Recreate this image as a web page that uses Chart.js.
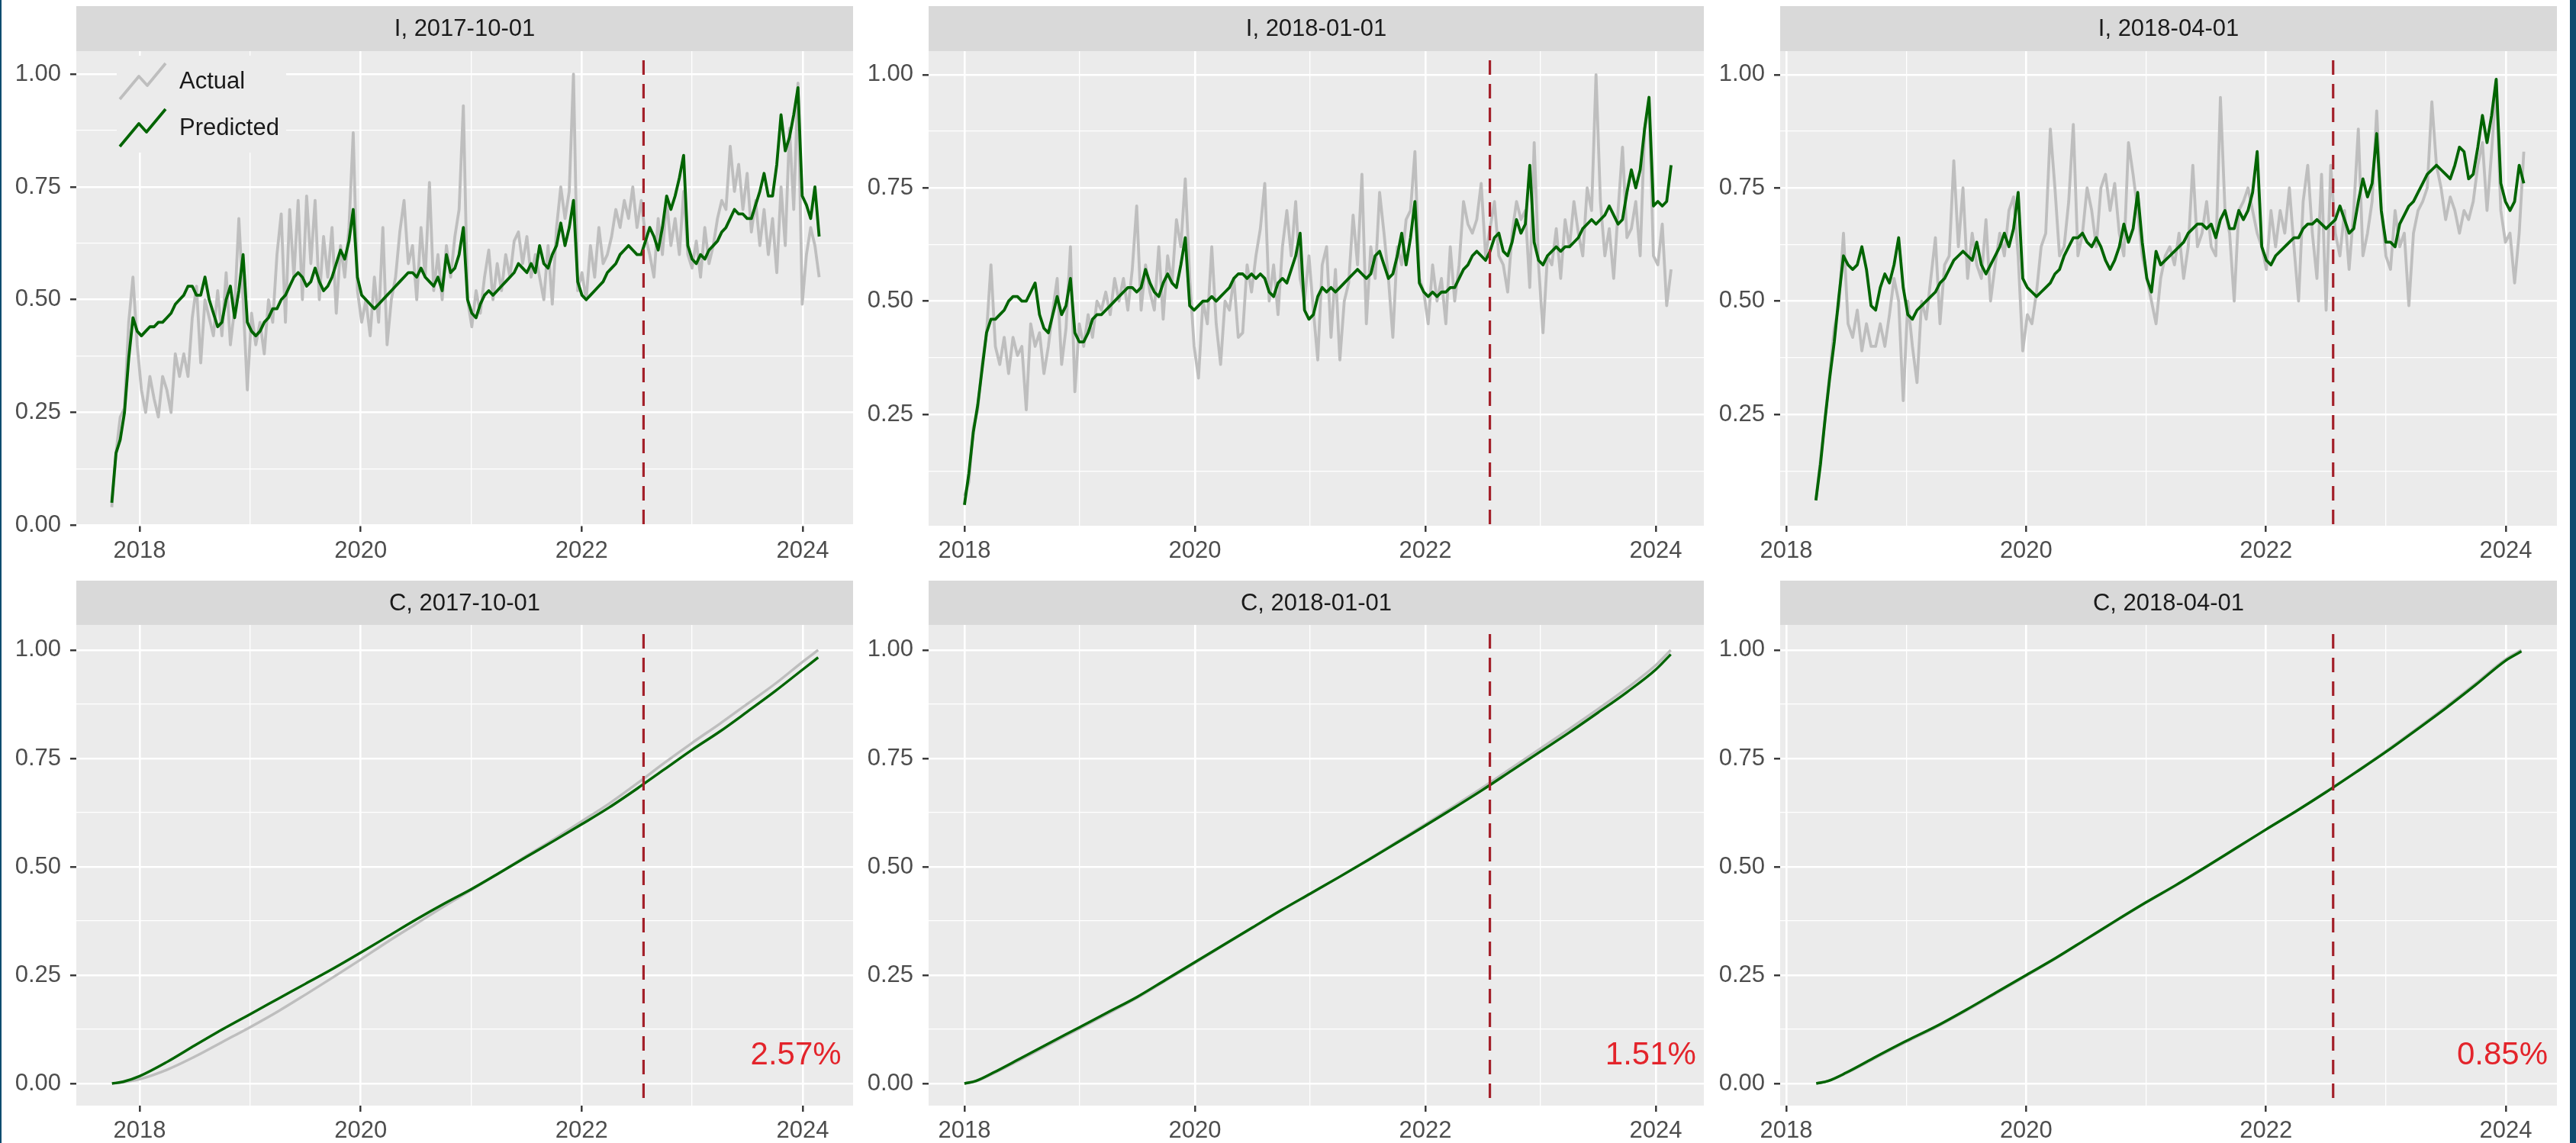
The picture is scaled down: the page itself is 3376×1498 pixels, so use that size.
<!DOCTYPE html>
<html><head><meta charset="utf-8">
<script src="https://cdn.jsdelivr.net/npm/chart.js@4.4.1/dist/chart.umd.min.js"></script>
<style>
html,body{margin:0;padding:0;background:#ffffff;}
body{width:3376px;height:1498px;position:relative;overflow:hidden;}
.edge{position:absolute;top:0;height:1498px;background:#0E4C6F;}
canvas{position:absolute;}
</style></head><body>
<div class="edge" style="left:0;width:2px"></div>
<div class="edge" style="left:3368px;width:8px"></div>
<canvas id="p0"></canvas><canvas id="p1"></canvas><canvas id="p2"></canvas>
<canvas id="p3"></canvas><canvas id="p4"></canvas><canvas id="p5"></canvas>
<script>
// ---------- data ----------
const panelTitles = ['I, 2017-10-01','I, 2018-01-01','I, 2018-04-01','C, 2017-10-01','C, 2018-01-01','C, 2018-04-01'];
const seriesNames = ['Actual','Predicted'];
const startYears = [2017.748, 2018.000, 2018.247];   // first week of each series (decimal year)
const weekStep = 14/365.25;                            // two-week sampling
const cutoffYear = 2022.56;                            // dashed vertical line
const errorLabels = ['2.57%','1.51%','0.85%'];
const xTickYears = [2017,2018,2019,2020,2021,2022,2023,2024];
const yTickValues = [0,0.125,0.25,0.375,0.5,0.625,0.75,0.875,1];

const predicted1 = [0.05,0.16,0.19,0.25,0.37,0.46,0.43,
0.42,0.43,0.44,0.44,0.45,0.45,0.46,0.47,0.49,0.50,0.51,0.53,0.53,0.51,0.51,0.55,0.50,0.47,0.44,0.45,0.50,0.53,0.46,0.52,0.60,0.45,0.43,0.42,
0.43,0.45,0.46,0.48,0.48,0.50,0.51,0.53,0.55,0.56,0.55,0.53,0.54,0.57,0.54,0.52,0.53,0.55,0.58,0.61,0.59,0.63,0.70,0.55,0.51,
0.50,0.49,0.48,0.49,0.50,0.51,0.52,0.53,0.54,0.55,0.56,0.56,0.55,0.57,0.55,0.54,0.53,0.55,0.52,0.60,0.56,0.57,0.60,0.66,0.50,0.47,
0.46,0.49,0.51,0.52,0.51,0.52,0.53,0.54,0.55,0.56,0.58,0.57,0.56,0.58,0.56,0.62,0.58,0.57,0.60,0.62,0.67,0.62,0.66,0.72,0.54,0.51,
0.50,0.51,0.52,0.53,0.54,0.56,0.57,0.58,0.60,0.61,0.62,0.61,0.60,0.60,0.63,0.66,0.64,0.61,0.66,0.73,0.70,0.73,0.77,0.82,0.62,0.59,
0.58,0.60,0.59,0.61,0.62,0.63,0.65,0.66,0.68,0.70,0.69,0.69,0.68,0.68,0.71,0.74,0.78,0.73,0.73,0.80,0.91,0.83,0.86,0.91,0.97,0.73,
0.71,0.68,0.75,0.64];
const actual1 = [0.04,0.16,0.24,0.26,0.45,0.55,0.40,
0.30,0.25,0.33,0.28,0.24,0.33,0.30,0.25,0.38,0.33,0.38,0.33,0.46,0.53,0.36,0.50,0.46,0.42,0.52,0.42,0.56,0.40,0.48,0.68,0.50,0.30,0.47,0.40,
0.45,0.38,0.50,0.45,0.60,0.69,0.45,0.70,0.55,0.72,0.50,0.73,0.58,0.72,0.50,0.64,0.55,0.66,0.47,0.62,0.55,0.66,0.87,0.52,0.45,
0.50,0.42,0.55,0.45,0.66,0.40,0.50,0.55,0.65,0.72,0.58,0.62,0.50,0.66,0.55,0.76,0.52,0.60,0.50,0.62,0.55,0.64,0.70,0.93,0.50,0.44,
0.52,0.47,0.55,0.61,0.50,0.58,0.52,0.60,0.55,0.63,0.65,0.58,0.64,0.55,0.60,0.55,0.50,0.62,0.49,0.66,0.75,0.68,0.74,1.00,0.52,0.56,
0.50,0.62,0.55,0.66,0.58,0.60,0.64,0.70,0.66,0.72,0.68,0.75,0.66,0.72,0.64,0.60,0.55,0.68,0.60,0.72,0.62,0.68,0.60,0.74,0.60,0.57,
0.63,0.55,0.66,0.58,0.62,0.68,0.72,0.70,0.84,0.74,0.80,0.70,0.78,0.65,0.72,0.62,0.70,0.60,0.68,0.56,0.75,0.62,0.88,0.70,0.98,0.49,
0.60,0.66,0.62,0.55];

const predicted2 = [0.05,0.12,0.21,0.27,0.35,0.43,0.46,0.46,0.47,0.48,0.50,0.51,0.51,0.50,0.50,0.52,0.54,0.47,0.44,0.43,0.47,0.51,0.47,0.49,0.55,0.43,
0.41,0.41,0.43,0.46,0.47,0.47,0.48,0.49,0.50,0.51,0.52,0.53,0.53,0.52,0.53,0.57,0.54,0.52,0.51,0.54,0.56,0.54,0.53,0.58,0.64,0.49,
0.48,0.49,0.50,0.50,0.51,0.50,0.51,0.52,0.53,0.55,0.56,0.56,0.55,0.56,0.55,0.56,0.55,0.52,0.51,0.54,0.55,0.54,0.57,0.60,0.65,0.48,
0.46,0.47,0.51,0.53,0.52,0.53,0.52,0.53,0.54,0.55,0.56,0.57,0.56,0.55,0.56,0.60,0.61,0.58,0.55,0.56,0.60,0.65,0.58,0.64,0.72,0.54,
0.52,0.51,0.52,0.51,0.52,0.52,0.53,0.53,0.55,0.57,0.58,0.60,0.61,0.60,0.59,0.61,0.64,0.65,0.61,0.60,0.63,0.68,0.65,0.67,0.80,0.63,
0.59,0.58,0.60,0.61,0.62,0.61,0.62,0.62,0.63,0.64,0.66,0.67,0.68,0.67,0.68,0.69,0.71,0.69,0.67,0.68,0.74,0.79,0.75,0.79,0.88,0.95,
0.71,0.72,0.71,0.72,0.80];
const actual2 = [0.07,0.10,0.22,0.26,0.36,0.43,0.58,0.40,0.36,0.42,0.34,0.42,0.38,0.40,0.26,0.45,0.40,0.43,0.34,0.40,0.48,0.55,0.36,0.44,0.62,0.30,
0.45,0.40,0.47,0.42,0.50,0.48,0.52,0.47,0.55,0.50,0.55,0.48,0.57,0.71,0.48,0.58,0.52,0.48,0.62,0.46,0.60,0.54,0.68,0.62,0.77,0.55,
0.40,0.33,0.50,0.45,0.62,0.45,0.36,0.50,0.48,0.55,0.42,0.43,0.58,0.52,0.60,0.66,0.76,0.50,0.58,0.47,0.62,0.70,0.60,0.72,0.55,0.50,
0.60,0.48,0.37,0.58,0.62,0.42,0.57,0.37,0.50,0.54,0.69,0.58,0.78,0.45,0.62,0.55,0.74,0.65,0.55,0.42,0.62,0.58,0.68,0.70,0.83,0.55,
0.52,0.45,0.58,0.50,0.55,0.45,0.62,0.50,0.58,0.72,0.67,0.65,0.68,0.76,0.60,0.66,0.72,0.60,0.58,0.52,0.65,0.72,0.68,0.70,0.53,0.85,
0.58,0.43,0.60,0.58,0.66,0.55,0.68,0.62,0.72,0.65,0.60,0.75,0.70,1.00,0.72,0.60,0.66,0.55,0.70,0.84,0.64,0.66,0.72,0.60,0.88,0.94,
0.60,0.58,0.67,0.49,0.57];

const predicted3 = [0.06,0.14,0.24,0.33,0.41,0.51,0.60,0.58,0.57,0.58,0.62,0.57,0.49,0.48,0.53,0.56,0.54,0.58,0.64,0.53,0.47,0.46,0.48,0.49,0.50,0.51,
0.52,0.54,0.55,0.57,0.59,0.60,0.61,0.60,0.59,0.63,0.58,0.56,0.58,0.60,0.62,0.65,0.62,0.66,0.74,0.55,0.53,0.52,0.51,0.52,0.53,0.54,
0.56,0.57,0.60,0.62,0.64,0.64,0.65,0.63,0.62,0.64,0.62,0.59,0.57,0.59,0.62,0.67,0.63,0.66,0.74,0.63,0.55,0.52,0.61,0.58,0.59,0.60,
0.61,0.62,0.63,0.65,0.66,0.67,0.67,0.66,0.67,0.64,0.68,0.70,0.66,0.66,0.70,0.68,0.70,0.74,0.83,0.62,0.59,0.58,0.60,0.61,0.62,0.63,
0.64,0.64,0.66,0.67,0.67,0.68,0.67,0.66,0.67,0.68,0.71,0.68,0.65,0.66,0.72,0.77,0.73,0.76,0.87,0.70,0.63,0.63,0.62,0.67,0.69,0.71,
0.72,0.74,0.76,0.78,0.79,0.80,0.79,0.78,0.77,0.80,0.84,0.83,0.77,0.78,0.84,0.91,0.85,0.91,0.99,0.76,0.72,0.70,0.72,0.80,0.76];
const actual3 = [0.06,0.15,0.24,0.34,0.44,0.49,0.65,0.45,0.42,0.48,0.39,0.45,0.40,0.40,0.45,0.40,0.47,0.55,0.50,0.28,0.50,0.40,0.32,0.50,0.46,0.55,
0.64,0.45,0.58,0.60,0.81,0.62,0.75,0.55,0.65,0.58,0.55,0.68,0.50,0.58,0.65,0.60,0.70,0.73,0.60,0.39,0.47,0.45,0.52,0.62,0.65,0.88,
0.75,0.60,0.62,0.72,0.89,0.60,0.65,0.75,0.70,0.62,0.75,0.78,0.70,0.76,0.65,0.60,0.85,0.78,0.70,0.60,0.55,0.50,0.45,0.55,0.60,0.62,
0.58,0.65,0.55,0.62,0.80,0.62,0.65,0.72,0.62,0.60,0.95,0.70,0.65,0.50,0.70,0.72,0.75,0.70,0.65,0.62,0.57,0.70,0.62,0.70,0.65,0.75,
0.62,0.50,0.72,0.80,0.65,0.55,0.78,0.48,0.80,0.65,0.60,0.70,0.57,0.70,0.88,0.60,0.65,0.72,0.92,0.70,0.60,0.57,0.70,0.62,0.65,0.49,
0.65,0.70,0.72,0.75,0.94,0.80,0.75,0.68,0.73,0.70,0.65,0.70,0.68,0.72,0.80,0.85,0.70,0.83,0.98,0.70,0.63,0.65,0.54,0.65,0.83];

const cumYears1 = [2017.75,2017.85,2018.00,2018.25,2018.50,2018.75,2019.00,2019.25,2019.50,2019.75,2020.00,2020.25,2020.50,2020.75,2021.00,2021.25,2021.50,2021.75,2022.00,2022.25,2022.50,2022.75,2023.00,2023.25,2023.50,2023.75,2024.00,2024.14];
const cumPredicted1 = [0.000,0.004,0.017,0.050,0.088,0.125,0.160,0.195,0.230,0.265,0.302,0.340,0.378,0.414,0.448,0.485,0.523,0.560,0.598,0.637,0.680,0.725,0.770,0.812,0.858,0.905,0.955,0.983];
const cumActual1 = [0.000,0.003,0.010,0.032,0.062,0.096,0.130,0.166,0.205,0.245,0.286,0.328,0.368,0.408,0.446,0.485,0.525,0.564,0.605,0.646,0.692,0.740,0.786,0.830,0.876,0.922,0.973,1.000];

const cumYears2 = [2018.00,2018.10,2018.25,2018.50,2018.75,2019.00,2019.25,2019.50,2019.75,2020.00,2020.25,2020.50,2020.75,2021.00,2021.25,2021.50,2021.75,2022.00,2022.25,2022.50,2022.75,2023.00,2023.25,2023.50,2023.75,2024.00,2024.13];
const cumPredicted2 = [0.000,0.006,0.025,0.060,0.095,0.130,0.165,0.200,0.240,0.280,0.320,0.360,0.400,0.438,0.476,0.515,0.555,0.595,0.636,0.678,0.722,0.766,0.810,0.856,0.903,0.955,0.990];
const cumActual2 = [0.000,0.005,0.023,0.057,0.092,0.127,0.162,0.198,0.238,0.278,0.319,0.359,0.399,0.437,0.476,0.516,0.557,0.598,0.640,0.683,0.728,0.773,0.818,0.864,0.912,0.965,1.000];

const cumYears3 = [2018.25,2018.35,2018.50,2018.75,2019.00,2019.25,2019.50,2019.75,2020.00,2020.25,2020.50,2020.75,2021.00,2021.25,2021.50,2021.75,2022.00,2022.25,2022.50,2022.75,2023.00,2023.25,2023.50,2023.75,2024.00,2024.13];
const cumPredicted3 = [0.000,0.006,0.025,0.062,0.098,0.132,0.170,0.210,0.250,0.290,0.333,0.376,0.418,0.458,0.500,0.543,0.586,0.628,0.672,0.718,0.765,0.815,0.866,0.920,0.976,0.997];
const cumActual3 = [0.000,0.006,0.024,0.060,0.096,0.130,0.168,0.208,0.248,0.289,0.332,0.375,0.417,0.457,0.499,0.542,0.586,0.628,0.673,0.719,0.767,0.817,0.869,0.923,0.979,1.000];

// ---------- layout / style ----------
const FONT = "'Liberation Sans', Arial, Helvetica, sans-serif";
const COL_ACT = '#BEBEBE', COL_PRED = '#006400', COL_VLINE = '#A3202A', COL_ERR = '#E3242B';
const xLimits = [[2017.427,2024.456],[2017.689,2024.417],[2017.949,2024.426]];
const topYLimits = [[-0.001,1.051],[0.004,1.052],[0.004,1.052]];
const bottomYLimits = [-0.051,1.058];
const colLeft = [0,1117,2233], colWidth = [1120,1118,1120];
const rowSpec = [{top:8,h:741,strip:59,xh:60},{top:761,h:736,strip:58,xh:48}];

function weeks(start, n){ const a=[]; for(let i=0;i<n;i++) a.push(start+i*weekStep); return a; }
const isMajY = v => Math.abs(v*4-Math.round(v*4))<1e-6;
const isMajX = v => Math.round(v)%2===0;

const iSeries = [[actual1,predicted1],[actual2,predicted2],[actual3,predicted3]];
const cSeries = [[cumYears1,cumActual1,cumPredicted1],[cumYears2,cumActual2,cumPredicted2],[cumYears3,cumActual3,cumPredicted3]];

function panelPlugin(p){
  return {
    id:'panelDeco',
    beforeDraw(chart){
      const {ctx, chartArea:a} = chart;
      ctx.save();
      ctx.fillStyle='#EBEBEB'; ctx.fillRect(a.left,a.top,a.right-a.left,a.bottom-a.top);
      ctx.fillStyle='#D9D9D9'; ctx.fillRect(a.left,a.top-p.strip,a.right-a.left,p.strip);
      ctx.fillStyle='#1A1A1A'; ctx.font='31px '+FONT; ctx.textAlign='center'; ctx.textBaseline='middle';
      ctx.fillText(p.title,(a.left+a.right)/2,a.top-p.strip/2+1);
      ctx.restore();
    },
    afterDatasetsDraw(chart){
      const {ctx, chartArea:a, scales} = chart;
      ctx.save();
      const vx = scales.x.getPixelForValue(cutoffYear);
      ctx.strokeStyle=COL_VLINE; ctx.lineWidth=3.2; ctx.setLineDash([19,12]); ctx.lineDashOffset=19;
      ctx.beginPath(); ctx.moveTo(vx,a.top); ctx.lineTo(vx,a.bottom); ctx.stroke();
      ctx.setLineDash([]);
      if(p.legend){
        const L=a.left, T=a.top;
        ctx.fillStyle='#EBEBEB'; ctx.fillRect(L+53,T+6,222,127);
        const keys=[[COL_ACT,[[57,63],[82,33],[93,45],[117,16]],40,seriesNames[0]],[COL_PRED,[[57,125],[82,95],[92,106],[117,76]],101,seriesNames[1]]];
        for(const [col,pts,ty,txt] of keys){
          ctx.strokeStyle=col; ctx.lineWidth=3.8; ctx.lineJoin='round'; ctx.beginPath();
          pts.forEach((q,i)=>{ if(i===0) ctx.moveTo(L+q[0],T+q[1]); else ctx.lineTo(L+q[0],T+q[1]); });
          ctx.stroke();
          ctx.fillStyle='#1A1A1A'; ctx.font='31px '+FONT; ctx.textAlign='left'; ctx.textBaseline='middle';
          ctx.fillText(txt,L+135,T+ty);
        }
      }
      if(p.err){
        ctx.fillStyle=COL_ERR; ctx.font='42px '+FONT; ctx.textAlign='right'; ctx.textBaseline='middle';
        ctx.fillText(p.err, scales.x.getPixelForValue(2024.35), scales.y.getPixelForValue(0.065));
      }
      ctx.restore();
    }
  };
}

function makePanel(idx){
  const row = idx<3?0:1, col = idx%3, rs = rowSpec[row];
  const cv = document.getElementById('p'+idx);
  cv.width = colWidth[col]; cv.height = rs.h;
  cv.style.left = colLeft[col]+'px'; cv.style.top = rs.top+'px';
  cv.style.width = colWidth[col]+'px'; cv.style.height = rs.h+'px';
  let actPts, predPts, lw, smooth;
  if(row===0){
    const [act,pred] = iSeries[col];
    const xs = weeks(startYears[col], act.length);
    actPts = act.map((v,i)=>({x:xs[i],y:v}));
    predPts = pred.map((v,i)=>({x:xs[i],y:v}));
    lw = 3.8; smooth=false;
  } else {
    const [xs,act,pred] = cSeries[col];
    actPts = act.map((v,i)=>({x:xs[i],y:v}));
    predPts = pred.map((v,i)=>({x:xs[i],y:v}));
    lw = 3.4; smooth=true;
  }
  const [xMin,xMax] = xLimits[col];
  const [yMin,yMax] = row===0 ? topYLimits[col] : bottomYLimits;
  const p = {title:panelTitles[idx], strip:rs.strip, legend: idx===0, err: row===1?errorLabels[col]:null};
  new Chart(cv,{
    type:'line',
    data:{datasets:[
      {label:seriesNames[0],order:2,data:actPts,borderColor:COL_ACT,borderWidth:lw,pointRadius:0,tension:0,cubicInterpolationMode:smooth?'monotone':'default',borderJoinStyle:'round'},
      {label:seriesNames[1],order:1,data:predPts,borderColor:COL_PRED,borderWidth:lw,pointRadius:0,tension:0,cubicInterpolationMode:smooth?'monotone':'default',borderJoinStyle:'round'}
    ]},
    options:{
      responsive:false, animation:false, devicePixelRatio:1, events:[],
      layout:{padding:{top:rs.strip,left:0,right:2,bottom:0}},
      plugins:{legend:{display:false},tooltip:{enabled:false}},
      scales:{
        x:{type:'linear',min:xMin,max:xMax,bounds:'data',
          afterBuildTicks:s=>{ s.ticks = xTickYears.filter(v=>v>=xMin&&v<=xMax).map(v=>({value:v})); },
          afterFit:s=>{ s.height = rs.xh; },
          ticks:{autoSkip:false,maxRotation:0,minRotation:0,padding:7,color:'#4D4D4D',font:{family:FONT,size:31},
            callback:v=> isMajX(v)?String(Math.round(v)):''},
          grid:{color:'#FFFFFF',lineWidth:c=>(c.tick&&isMajX(c.tick.value))?2.6:1.3,drawTicks:true,tickLength:8,tickWidth:2.4,
            tickColor:c=>(c.tick&&isMajX(c.tick.value))?'#333333':'rgba(0,0,0,0)'},
          border:{display:false}
        },
        y:{type:'linear',min:yMin,max:yMax,bounds:'data',
          afterBuildTicks:s=>{ s.ticks = yTickValues.filter(v=>v>=yMin&&v<=yMax).map(v=>({value:v})); },
          afterFit:s=>{ s.width = 100; },
          ticks:{autoSkip:false,padding:12,color:'#4D4D4D',font:{family:FONT,size:31},
            callback:v=> isMajY(v)?v.toFixed(2):''},
          grid:{color:'#FFFFFF',lineWidth:c=>(c.tick&&isMajY(c.tick.value))?2.6:1.3,drawTicks:true,tickLength:8,tickWidth:2.4,
            tickColor:c=>(c.tick&&isMajY(c.tick.value))?'#333333':'rgba(0,0,0,0)'},
          border:{display:false}
        }
      }
    },
    plugins:[panelPlugin(p)]
  });
}
for(let i=0;i<6;i++) makePanel(i);
</script>
</body></html>
